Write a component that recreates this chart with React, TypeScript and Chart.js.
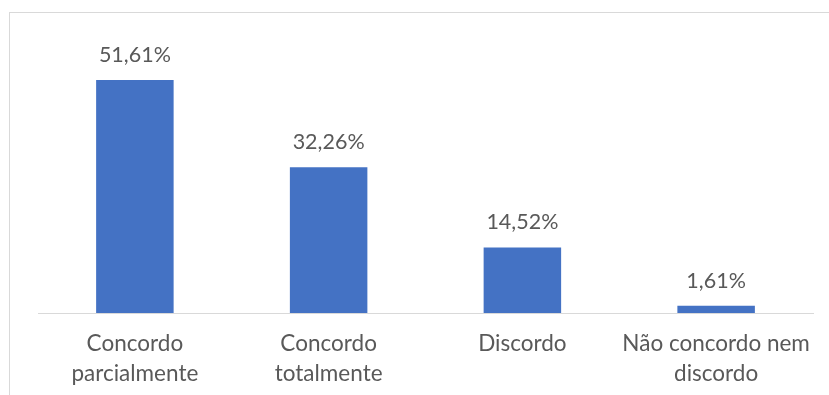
import React, { useEffect, useRef } from "react";
import { Chart, registerables } from "chart.js";

Chart.register(...registerables);

const categories: string[][] = [
  ["Concordo", "parcialmente"],
  ["Concordo", "totalmente"],
  ["Discordo"],
  ["Não concordo nem", "discordo"],
];
const values: number[] = [51.61, 32.26, 14.52, 1.61];
const valueLabels: string[] = ["51,61%", "32,26%", "14,52%", "1,61%"];

const FONT = "Lato, 'Open Sans', sans-serif";

const dataLabelPlugin = {
  id: "dataLabels",
  afterDatasetsDraw(chart: any) {
    const ctx = chart.ctx;
    const meta = chart.getDatasetMeta(0);
    ctx.save();
    ctx.font = `21.5px ${FONT}`;
    ctx.fillStyle = "#595959";
    ctx.textAlign = "center";
    ctx.textBaseline = "middle";
    meta.data.forEach((bar: any, i: number) => {
      ctx.fillText(valueLabels[i], bar.x, bar.y - 25);
    });
    ctx.restore();
  },
};

export default function App() {
  const ref = useRef<HTMLCanvasElement | null>(null);
  useEffect(() => {
    document.body.style.margin = "0";
    const chart = new Chart(ref.current as HTMLCanvasElement, {
      type: "bar",
      data: {
        labels: categories,
        datasets: [
          {
            data: values,
            backgroundColor: "#4472C4",
            barPercentage: 0.4,
            categoryPercentage: 1,
          },
        ],
      },
      options: {
        animation: false,
        responsive: false,
        maintainAspectRatio: false,
        layout: { padding: { left: 38, right: 16, top: 42, bottom: 0 } },
        plugins: { legend: { display: false }, tooltip: { enabled: false } },
        scales: {
          y: { display: false, min: 0, max: 60 },
          x: {
            grid: { display: false },
            border: { display: true, color: "#d9d9d9", width: 1 },
            ticks: {
              color: "#595959",
              font: { family: FONT, size: 22.5, lineHeight: 1.34 },
              padding: 8,
              maxRotation: 0,
              autoSkip: false,
            },
            afterFit(scale: any) {
              scale.height = 82;
            },
          },
        },
      },
      plugins: [dataLabelPlugin],
    });
    return () => chart.destroy();
  }, []);
  return (
    <div style={{ position: "relative", width: 829, height: 395, overflow: "hidden", background: "#fff" }}>
      <div
        style={{
          position: "absolute",
          left: 9,
          top: 12,
          width: 900,
          height: 500,
          border: "1px solid #d9d9d9",
          boxSizing: "border-box",
        }}
      />
      <canvas ref={ref} width={829} height={395} style={{ position: "absolute", left: 0, top: 0 }} />
    </div>
  );
}
